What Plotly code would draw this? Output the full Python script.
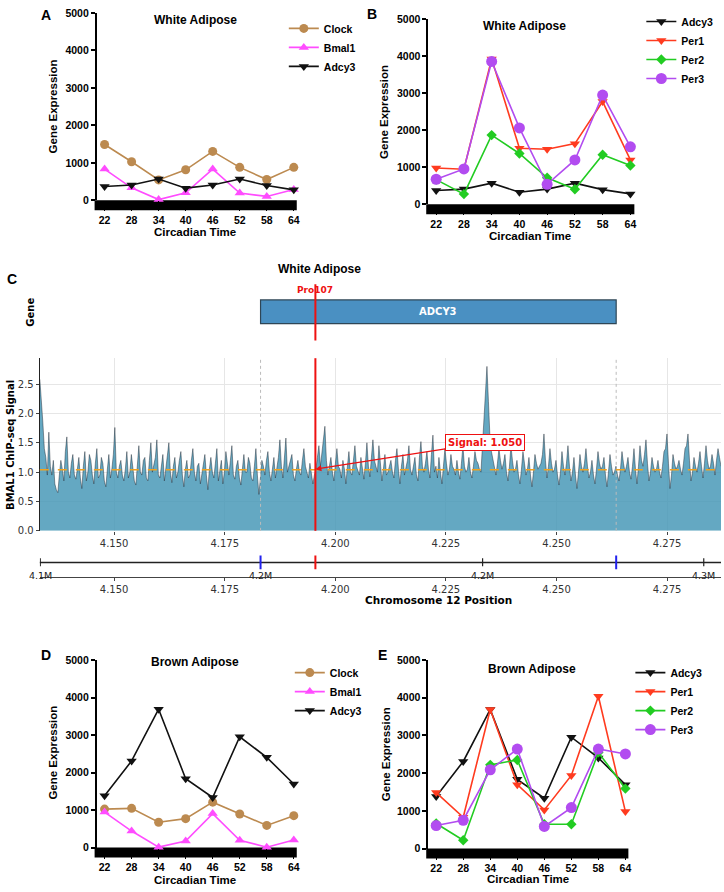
import plotly.graph_objects as go

W, H = 724, 892
def px(x): return x / W
def py(y): return 1 - y / H

ARIAL = "Liberation Sans, Arial, sans-serif"
DJV = "DejaVu Sans, sans-serif"

# ---------------- data ----------------
ct = [22, 28, 34, 40, 46, 52, 58, 64]

wat_clock = [1490, 1030, 545, 815, 1305, 880, 555, 880]
wat_bmal1 = [835, 335, 20, 200, 835, 195, 105, 290]
wat_adcy3 = [370, 410, 570, 325, 410, 570, 395, 280]
wat_per1 = [980, 945, 3920, 1510, 1485, 1635, 2770, 1195]
wat_per2 = [665, 275, 1865, 1370, 715, 405, 1335, 1045]
wat_per3 = [675, 955, 3850, 2060, 540, 1195, 2945, 1550]

bat_clock = [1025, 1045, 675, 770, 1210, 895, 590, 850]
bat_bmal1 = [945, 440, 10, 175, 905, 195, 10, 200]
bat_adcy3 = [1380, 2310, 3690, 1835, 1335, 2955, 2405, 1695]
bat_per1 = [1485, 830, 3690, 1695, 1025, 1940, 4040, 980]
bat_per2 = [665, 220, 2220, 2350, 645, 645, 2550, 1590]
bat_per3 = [610, 750, 2090, 2640, 585, 1085, 2640, 2510]

# ChIP-seq track (positions in Mb on chr12)
region_start = 4.1332
region_end = 4.2872
gene_name = "ADCY3"
gene_start = 4.1831
gene_end = 4.2635
variant_label = "Pro107"
variant_pos = 4.1955
variant_signal = 1.050
mean_signal = 1.04
# signal read at even bins
chip_signal_even = [
    2.58, 1.85, 1.25, 1.68, 0.95, 0.80, 0.65, 1.20, 0.85, 1.60, 0.90, 1.30,
    0.88, 1.25, 0.72, 1.35, 1.00, 1.20, 0.80, 1.40, 0.95, 1.15, 0.75, 1.30,
    1.05, 1.76, 0.90, 1.20, 0.85, 1.35, 1.00, 1.10, 0.78, 1.45, 0.95, 1.25,
    0.85, 1.50, 1.10, 1.55, 0.90, 1.30, 1.05, 1.50, 0.82, 1.25, 1.00, 1.35,
    0.75, 1.20, 0.95, 1.40, 0.85, 1.15, 1.00, 1.30, 0.70, 1.25, 0.90, 1.40,
    1.05, 0.80, 1.35, 0.95, 1.45, 0.88, 1.20, 0.78, 1.30, 1.00, 1.15, 0.85,
    1.40, 0.62, 1.20, 0.95, 1.35, 0.85, 1.25, 1.05, 1.55, 0.90, 1.58, 1.10,
    1.30, 0.85, 1.20, 0.95, 1.40, 1.00, 1.15, 0.80, 1.05, 1.45, 1.30, 1.78,
    0.95, 1.25, 0.85, 1.40, 1.05, 1.20, 0.80, 1.35, 0.95, 1.45, 1.00, 1.25,
    0.88, 1.50, 0.92, 1.55, 1.10, 1.45, 0.85, 1.30, 1.00, 1.20, 0.90, 1.40,
    0.80, 1.30, 1.05, 1.45, 0.95, 1.25, 0.85, 1.52, 1.00, 1.35, 0.90, 1.63,
    1.10, 1.25, 0.80, 1.40, 0.95, 1.30, 1.05, 1.20, 0.88, 1.45, 1.00, 1.25,
    0.90, 1.35, 1.15, 1.00, 1.90, 2.80, 1.60, 1.20, 0.95, 1.40, 1.05, 1.30,
    0.85, 1.45, 1.00, 1.20, 0.80, 1.35, 0.95, 1.25, 0.75, 1.30, 1.05, 1.15,
    1.65, 0.90, 1.40, 1.00, 1.20, 0.78, 1.35, 0.95, 1.45, 0.85, 1.25, 0.72,
    1.30, 1.00, 1.40, 0.90, 1.20, 0.80, 1.35, 1.05, 1.25, 0.75, 1.30, 0.95,
    1.10, 0.85, 1.35, 1.00, 1.25, 0.88, 1.40, 0.80, 1.45, 1.10, 1.55, 0.85,
    1.25, 1.00, 1.20, 0.90, 1.35, 1.65, 0.72, 1.30, 1.05, 1.20, 0.95, 1.40,
    1.65, 0.85, 1.25, 1.00, 1.35, 0.90, 1.45, 1.05, 1.30, 0.95, 1.40, 1.10,
]
# signal read at odd bins (between the even ones)
chip_signal_odd = [
    2.10, 1.40, 0.95, 1.10, 1.20, 0.70, 0.95, 1.05, 1.35, 1.00, 1.15, 0.95,
    1.05, 0.90, 1.10, 0.85, 1.30, 0.95, 1.15, 0.90, 1.25, 0.85, 1.05, 0.90,
    1.30, 1.00, 1.10, 0.95, 1.05, 0.90, 1.30, 0.85, 1.15, 1.00, 1.20, 0.90,
    1.20, 1.00, 1.25, 0.95, 1.15, 0.85, 1.30, 1.00, 1.10, 0.90, 1.20, 0.95,
    1.05, 0.90, 1.20, 1.00, 1.10, 0.80, 1.20, 0.95, 1.05, 1.00, 1.15, 0.85,
    1.20, 1.00, 1.10, 1.20, 0.95, 1.10, 0.90, 1.05, 1.00, 1.25, 0.90, 1.10,
    0.95, 0.90, 1.10, 1.20, 1.00, 1.05, 0.90, 1.25, 1.10, 1.20, 1.00, 1.25,
    0.95, 1.05, 1.00, 1.20, 1.10, 0.90, 1.00, 0.95, 1.25, 1.10, 1.50, 1.20,
    1.10, 1.00, 1.15, 1.10, 0.90, 1.05, 1.10, 1.00, 1.20, 1.10, 0.95, 1.05,
    1.15, 1.10, 1.25, 1.20, 1.00, 1.10, 1.05, 0.95, 1.10, 1.00, 1.20, 1.05,
    1.10, 0.95, 1.20, 1.05, 1.10, 0.95, 1.25, 1.10, 1.15, 1.05, 1.30, 1.00,
    0.90, 1.00, 1.10, 1.15, 1.05, 1.10, 0.95, 1.00, 1.15, 1.10, 1.05, 1.00,
    1.10, 1.20, 1.05, 1.45, 2.40, 2.20, 1.35, 1.05, 1.15, 1.20, 1.15, 1.00,
    1.10, 1.20, 1.05, 0.95, 1.05, 1.15, 1.05, 0.95, 1.00, 1.15, 1.10, 1.30,
    1.20, 1.10, 1.15, 1.05, 0.95, 1.00, 1.10, 1.15, 1.10, 1.00, 0.95, 1.00,
    1.10, 1.15, 1.10, 1.00, 0.95, 1.05, 1.15, 1.10, 0.95, 1.00, 1.10, 1.00,
    0.95, 1.05, 1.15, 1.10, 1.00, 1.10, 1.05, 1.10, 1.20, 1.30, 1.15, 1.00,
    1.10, 1.05, 1.00, 1.10, 1.40, 1.15, 0.95, 1.15, 1.10, 1.05, 1.15, 1.45,
    1.20, 1.00, 1.10, 1.15, 1.10, 1.15, 1.20, 1.10, 1.15, 1.20, 1.25,
]
chip_signal = []
for i, v in enumerate(chip_signal_even):
    chip_signal.append(v)
    if i < len(chip_signal_odd):
        chip_signal.append(chip_signal_odd[i])
step = (region_end - region_start) / (len(chip_signal) - 1)
chip_pos = [region_start + i * step for i in range(len(chip_signal))]

signal_ticks = [4.150, 4.175, 4.200, 4.225, 4.250, 4.275]
ruler_ticks = [4.1333, 4.1831, 4.2333, 4.2833]
ruler_labels = ["4.1M", "4.2M", "4.2M", "4.3M"]
ruler_black = [4.1333, 4.2333, 4.2833]

# ---------------- styles ----------------
STY = {
    "Clock": dict(color="#BC8A50", symbol="circle", size=9),
    "Bmal1": dict(color="#FF4CFF", symbol="triangle-up", size=9),
    "Adcy3": dict(color="#111111", symbol="triangle-down", size=9),
    "Per1": dict(color="#FF3B1F", symbol="triangle-down", size=9),
    "Per2": dict(color="#22CC22", symbol="diamond", size=8),
    "Per3": dict(color="#B24CF0", symbol="circle", size=11),
}

fig = go.Figure()
shapes, annotations = [], []

def add_series(y, name, xa, ya, legend):
    s = STY[name]
    fig.add_trace(go.Scatter(
        x=ct, y=y, name=name, mode="lines+markers",
        line=dict(color=s["color"], width=1.6),
        marker=dict(symbol=s["symbol"], size=s["size"], color=s["color"]),
        xaxis=xa, yaxis=ya, legend=legend, cliponaxis=False))

panels = {
    "A": ("x", "y", (97, 298), (7, 197), [20.23, 64.66], "legend"),
    "B": ("x2", "y2", (430, 637), (13, 201), [20.28, 64.86], "legend2"),
    "D": ("x6", "y6", (97, 298), (663, 853), [20.23, 64.66], "legend3"),
    "E": ("x7", "y7", (430, 631), (663, 854), [20.23, 64.66], "legend4"),
}

add_series(wat_clock, "Clock", "x", "y", "legend")
add_series(wat_bmal1, "Bmal1", "x", "y", "legend")
add_series(wat_adcy3, "Adcy3", "x", "y", "legend")
add_series(wat_adcy3, "Adcy3", "x2", "y2", "legend2")
add_series(wat_per1, "Per1", "x2", "y2", "legend2")
add_series(wat_per2, "Per2", "x2", "y2", "legend2")
add_series(wat_per3, "Per3", "x2", "y2", "legend2")
add_series(bat_clock, "Clock", "x6", "y6", "legend3")
add_series(bat_bmal1, "Bmal1", "x6", "y6", "legend3")
add_series(bat_adcy3, "Adcy3", "x6", "y6", "legend3")
add_series(bat_adcy3, "Adcy3", "x7", "y7", "legend4")
add_series(bat_per1, "Per1", "x7", "y7", "legend4")
add_series(bat_per2, "Per2", "x7", "y7", "legend4")
add_series(bat_per3, "Per3", "x7", "y7", "legend4")

layout = dict(
    width=W, height=H, margin=dict(l=0, r=0, t=0, b=0),
    paper_bgcolor="white", plot_bgcolor="rgba(0,0,0,0)",
    font=dict(family=ARIAL, color="black"),
)

for key, (xa, ya, xd, yd, xr, lg) in panels.items():
    xn = "xaxis" + xa[1:]
    yn = "yaxis" + ya[1:]
    layout[xn] = dict(
        domain=[px(xd[0]), px(xd[1])], range=xr, anchor=ya,
        tickvals=ct, ticks="outside", ticklen=10, tickcolor="black",
        showline=False, showgrid=False, zeroline=False,
        tickfont=dict(family=ARIAL, size=10.5, color="black", weight="bold"),
    )
    layout[yn] = dict(
        domain=[py(yd[1]), py(yd[0])], range=[0, 5000], anchor=xa,
        tickvals=[0, 1000, 2000, 3000, 4000, 5000], ticks="outside",
        ticklen=4, tickwidth=1.5, tickcolor="black",
        showline=True, linecolor="black", linewidth=1.5,
        showgrid=False, zeroline=False,
        tickfont=dict(family=ARIAL, size=10.5, color="black", weight="bold"),
    )
    h = yd[1] - yd[0]
    shapes.append(dict(type="rect", xref=xa + " domain", yref=ya + " domain",
                       x0=-2 / (xd[1] - xd[0]), x1=1.0, y0=-10 / h, y1=0,
                       fillcolor="black", line=dict(width=0), layer="below"))

def legend_cfg(x, y):
    return dict(x=px(x), y=py(y), xanchor="left", yanchor="top",
                bgcolor="rgba(0,0,0,0)", itemwidth=30, tracegroupgap=0,
                font=dict(family=ARIAL, size=10.5, color="black", weight="bold"))

layout["legend"] = legend_cfg(285, 8)
layout["legend2"] = legend_cfg(644, 1)
layout["legend3"] = legend_cfg(291, 661)
layout["legend4"] = legend_cfg(633, 661)

def txt(x, y, text, size, family=ARIAL, bold=True, color="black", angle=0, **kw):
    annotations.append(dict(
        x=px(x), y=py(y), xref="paper", yref="paper", text=text, showarrow=False,
        textangle=angle, xanchor="center", yanchor="middle",
        font=dict(family=family, size=size, color=color,
                  weight="bold" if bold else "normal"), **kw))

txt(46, 9, "A", 14)
txt(374, 8, "B", 14)
txt(12, 277, "C", 14)
txt(46, 658, "D", 14)
txt(384, 658, "E", 14)

txt(196, 14, "White Adipose", 12)
txt(527, 20, "White Adipose", 12)
txt(196, 665, "Brown Adipose", 12)
txt(534, 672, "Brown Adipose", 12)
for (x, y) in [(53, 102), (385, 107), (53, 757), (387, 758)]:
    txt(x, y, "Gene Expression", 11.5, angle=-90)
for (x, y) in [(196, 229), (532, 233), (196, 886), (530, 885)]:
    txt(x, y, "Circadian Time", 11.5)

# ---------------- panel C ----------------
xr_c = [region_start, region_end]
cx = [px(40), 1.0]

layout["xaxis3"] = dict(domain=cx, range=xr_c, anchor="y3", visible=False)
layout["yaxis3"] = dict(domain=[py(341), py(275)], range=[0, 1], anchor="x3", visible=False)
shapes.append(dict(type="rect", xref="x3", yref="y3", x0=gene_start, x1=gene_end,
                   y0=0.288, y1=0.652, fillcolor="#4A90C2",
                   line=dict(color="#2E4656", width=1.2)))
shapes.append(dict(type="line", xref="x3", yref="y3", x0=variant_pos, x1=variant_pos,
                   y0=0.03, y1=0.894, line=dict(color="#EE1111", width=2), layer="above"))
annotations.append(dict(x=(gene_start + gene_end) / 2, y=0.47, xref="x3", yref="y3",
                        text=gene_name, showarrow=False,
                        font=dict(family=DJV, size=10, color="white", weight="bold")))
annotations.append(dict(x=variant_pos, y=0.80, xref="x3", yref="y3",
                        text=variant_label, showarrow=False,
                        font=dict(family=DJV, size=9, color="#EE1111", weight="bold")))
txt(31, 310, "Gene", 10, family=DJV, angle=-90)
txt(321, 267, "White Adipose", 12, family=ARIAL)

fig.add_trace(go.Scatter(
    x=chip_pos, y=chip_signal, mode="lines", fill="tozeroy",
    fillcolor="rgba(66,149,181,0.82)",
    line=dict(color="rgba(30,40,50,0.65)", width=0.7),
    xaxis="x4", yaxis="y4", showlegend=False, hoverinfo="skip"))

layout["xaxis4"] = dict(
    domain=cx, range=xr_c, anchor="y4", tickvals=signal_ticks,
    ticktext=[f"{v:.3f}" for v in signal_ticks],
    showgrid=True, gridcolor="#E6E6E6", gridwidth=1, zeroline=False,
    showline=False, ticks="outside", ticklen=3, tickcolor="#444",
    tickfont=dict(family=DJV, size=10, color="#333"))
layout["yaxis4"] = dict(
    domain=[py(532), py(357)], range=[0, 2.94], anchor="x4",
    tickvals=[0, 0.5, 1.0, 1.5, 2.0, 2.5],
    ticktext=["0.0", "0.5", "1.0", "1.5", "2.0", "2.5"],
    showgrid=True, gridcolor="#E6E6E6", gridwidth=1, zeroline=False,
    showline=True, linecolor="#222", linewidth=1.2,
    ticks="outside", ticklen=3, tickcolor="#444",
    tickfont=dict(family=DJV, size=10, color="#333"))

for g in (gene_start, gene_end):
    shapes.append(dict(type="line", xref="x4", yref="y4 domain", x0=g, x1=g, y0=0, y1=1,
                       line=dict(color="#BBBBBB", width=1, dash="dot"), layer="above"))
shapes.append(dict(type="line", xref="x4 domain", yref="y4", x0=0, x1=1,
                   y0=mean_signal, y1=mean_signal,
                   line=dict(color="#F0A21E", width=1.5, dash="dash"), layer="above"))
shapes.append(dict(type="line", xref="x4", yref="y4 domain", x0=variant_pos, x1=variant_pos,
                   y0=0, y1=1, line=dict(color="#EE1111", width=2), layer="above"))

annotations.append(dict(
    x=variant_pos, y=variant_signal, xref="x4", yref="y4",
    ax=4.2338, ay=1.5, axref="x4", ayref="y4",
    text=f"Signal: {variant_signal:.3f}", showarrow=True,
    arrowhead=2, arrowsize=1, arrowwidth=1.2, arrowcolor="#EE1111",
    bgcolor="white", bordercolor="#EE1111", borderwidth=1, borderpad=2,
    font=dict(family=DJV, size=10, color="#EE1111", weight="bold")))
txt(10, 445, "BMAL1 ChIP-seq Signal", 10, family=DJV, angle=-90)

layout["xaxis5"] = dict(
    domain=cx, range=xr_c, anchor="y5", tickvals=signal_ticks,
    ticktext=[f"{v:.3f}" for v in signal_ticks],
    showgrid=False, zeroline=False, showline=True, linecolor="#444", linewidth=1,
    ticks="outside", ticklen=3, tickcolor="#444",
    tickfont=dict(family=DJV, size=10, color="#333"))
layout["yaxis5"] = dict(domain=[py(579), py(550)], range=[0, 1], anchor="x5", visible=False)
shapes.append(dict(type="line", xref="x5 domain", yref="y5", x0=0, x1=1, y0=0.517, y1=0.517,
                   line=dict(color="#222", width=1.5)))
for t in ruler_black:
    shapes.append(dict(type="line", xref="x5", yref="y5", x0=t, x1=t, y0=0.38, y1=0.66,
                       line=dict(color="#222", width=1.2)))
for g in (gene_start, gene_end):
    shapes.append(dict(type="line", xref="x5", yref="y5", x0=g, x1=g, y0=0.28, y1=0.76,
                       line=dict(color="#2222EE", width=2)))
shapes.append(dict(type="line", xref="x5", yref="y5", x0=variant_pos, x1=variant_pos,
                   y0=0.28, y1=0.76, line=dict(color="#EE1111", width=2)))
for t, lab in zip(ruler_ticks, ruler_labels):
    annotations.append(dict(x=t, y=0.07, xref="x5", yref="y5", text=lab, showarrow=False,
                            font=dict(family=DJV, size=9.5, color="#222")))
txt(440, 602, "Chromosome 12 Position", 10.5, family=DJV)

layout["shapes"] = shapes
layout["annotations"] = annotations
fig.update_layout(**layout)
fig.write_html("out.html")
